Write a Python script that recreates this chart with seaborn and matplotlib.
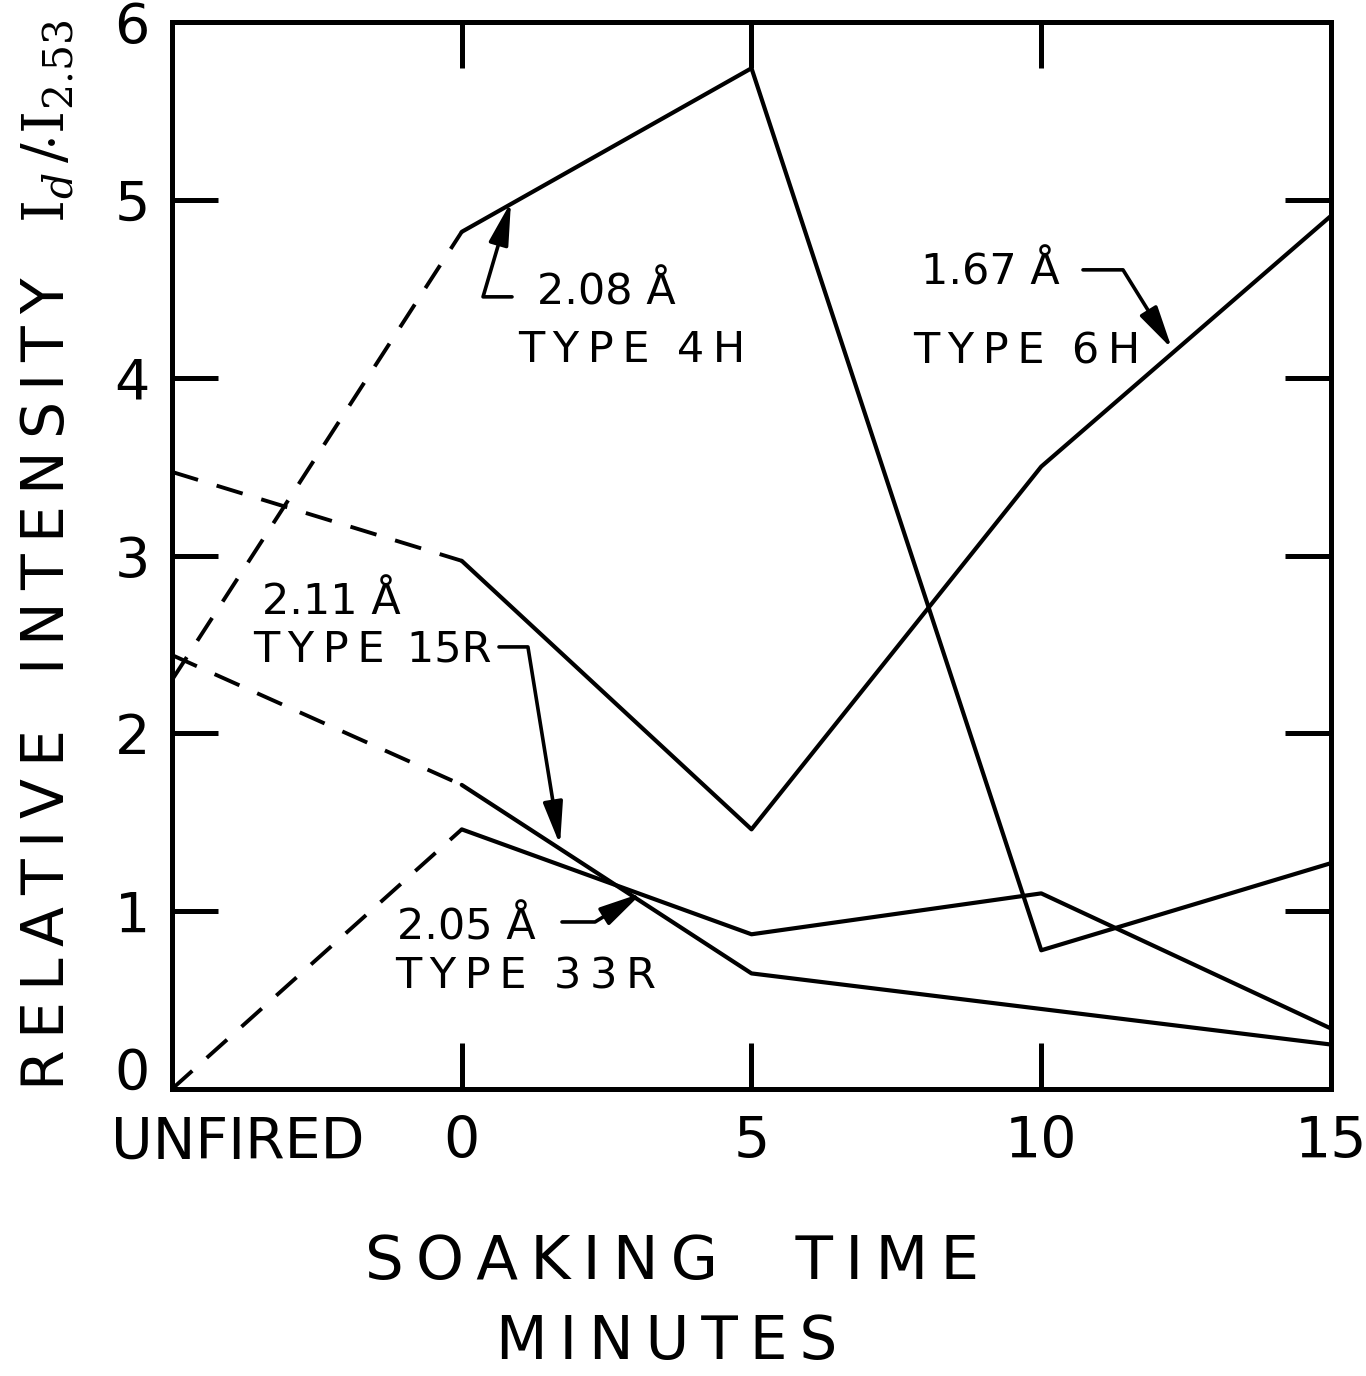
import matplotlib
matplotlib.use("Agg")
import matplotlib.pyplot as plt
import matplotlib.transforms as mtransforms
import seaborn as sns
import pandas as pd

# ---- data ----
x_labels = ["UNFIRED", "0", "5", "10", "15"]
x_pos = [0, 1, 2, 3, 4]
y_ticks = [0, 1, 2, 3, 4, 5, 6]
type_4h = [2.30, 4.82, 5.74, 0.78, 1.27]    # 2.08 Å
type_6h = [3.47, 2.97, 1.46, 3.50, 4.91]    # 1.67 Å
type_15r = [2.44, 1.71, 0.65, 0.45, 0.25]   # 2.11 Å
type_33r = [0.00, 1.46, 0.87, 1.10, 0.34]   # 2.05 Å
series_names = ["4H", "6H", "15R", "33R"]
T = "\u2009"
label_line1 = ["2.08 Å", "1.67 Å", "2.11 Å", "2.05 Å"]
label_line2 = [f"T{T}Y{T}P{T}E  4{T}H", f"T{T}Y{T}P{T}E  6{T}H",
               f"T{T}Y{T}P{T}E {T}15R", f"T{T}Y{T}P{T}E  3{T}3{T}R"]

sns.set_theme(style="white")
plt.rcParams['font.family'] = ['DejaVu Sans']
plt.rcParams['mathtext.fontset'] = 'dejavuserif'
plt.rcParams['text.color'] = 'black'
plt.rcParams['xtick.color'] = 'black'
plt.rcParams['ytick.color'] = 'black'

W, H = 1366, 1376
fig = plt.figure(figsize=(W / 100, H / 100), dpi=100)
ax = fig.add_axes([172 / W, 1 - 1089 / H, (1331 - 172) / W, (1089 - 22) / H])

rows = []
for name, vals in zip(series_names, [type_4h, type_6h, type_15r, type_33r]):
    for p, v in zip(x_pos, vals):
        rows.append(dict(series=name, pos=p, value=v))
df = pd.DataFrame(rows)

solid = df[df["pos"] >= 1]
dashed = df[df["pos"] <= 1]
sns.lineplot(data=solid, x="pos", y="value", units="series", estimator=None,
             color="black", lw=3.0, ax=ax, legend=False)
sns.lineplot(data=dashed, x="pos", y="value", units="series", estimator=None,
             color="black", lw=2.8, ax=ax, legend=False, linestyle=(0, (7, 5)))

ax.set_xlim(0, 4)
ax.set_ylim(0, 6)
ax.set_xticks(x_pos)
ax.set_xticklabels(x_labels)
ax.set_yticks(y_ticks)
ax.set_yticklabels([str(t) for t in y_ticks])
ax.set_xlabel("")
ax.set_ylabel("")
for s in ax.spines.values():
    s.set_linewidth(3.6)
    s.set_color("black")
ax.tick_params(direction="in", length=33, width=3.6, color="black",
               labelcolor="black", top=True, right=True, bottom=True, left=True)
ax.tick_params(axis="x", labelsize=41, pad=19)
ax.tick_params(axis="y", labelsize=40, pad=16)

# shift "UNFIRED" label to the right and the y "0" label up, as in the reference
lab0 = ax.get_xticklabels()[0]
lab0.set_transform(lab0.get_transform() +
                   mtransforms.ScaledTranslation(0.66, 0, fig.dpi_scale_trans))
ylab0 = ax.get_yticklabels()[0]
ylab0.set_transform(ylab0.get_transform() +
                    mtransforms.ScaledTranslation(0, 0.21, fig.dpi_scale_trans))

# ---- annotations ----
def px2pos(px):
    return (px - 172) / 289.75

def py2val(py):
    return (1089 - py) / 177.8

ann_text1 = [(537, 293), (921, 273), (262, 602), (397, 928)]
ann_text2 = [(518, 350), (913, 352), (253, 650), (395, 977)]
ann_start = [(512, 297), (1083, 270), (499, 647), (562, 922)]
ann_tip = [(511, 202), (1172, 349), (560, 845), (642, 893)]
ann_angleA = [180, 0, 0, 0]
ann_angleB = [73.6, -58.2, -80.8, 31.7]

for i in range(4):
    tx, ty = ann_text1[i]
    ax.text(px2pos(tx), py2val(ty), label_line1[i], fontsize=31,
            ha="left", va="center", color="black")
    tx, ty = ann_text2[i]
    ax.text(px2pos(tx), py2val(ty), label_line2[i], fontsize=31,
            ha="left", va="center", color="black")
    sx, sy = ann_start[i]
    ex, ey = ann_tip[i]
    ax.annotate("", xy=(px2pos(ex), py2val(ey)), xytext=(px2pos(sx), py2val(sy)),
                arrowprops=dict(arrowstyle="-|>,head_length=1.3,head_width=0.3",
                                connectionstyle=f"angle,angleA={ann_angleA[i]},angleB={ann_angleB[i]},rad=0",
                                color="black", lw=2.6, shrinkA=0, shrinkB=0,
                                mutation_scale=20))

# ---- axis titles ----
def spaced(s, sep="\u2009"):
    return sep.join(s)

ylab = spaced("RELATIVE") + "   " + spaced("INTENSITY") + r"   $\mathrm{I}_d\,/\dot{}\,\mathrm{I}_{2.53}$"
fig.text(48 / W, 1 - 555 / H, ylab, rotation=90, fontsize=42,
         ha="center", va="center", color="black")

fig.text(672 / W, 1 - 1262 / H, f"S{T}O{T}A{T}K{T}I{T}N{T}G    T{T}I{T}M{T}E", fontsize=44,
         ha="center", va="center", color="black")
fig.text(667 / W, 1 - 1342 / H, f"M{T}I{T}N{T}U{T}T{T}E{T}S", fontsize=43,
         ha="center", va="center", color="black")

fig.savefig("out.png", dpi=100, facecolor="white")
